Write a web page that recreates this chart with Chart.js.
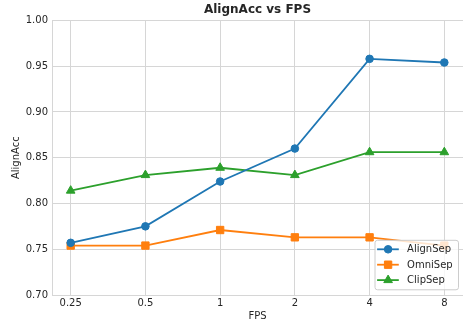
<!DOCTYPE html>
<html><head><meta charset="utf-8">
<script src="https://cdn.jsdelivr.net/npm/chart.js@4/dist/chart.umd.min.js"></script>
<style>html,body{margin:0;padding:0;background:#fff;}</style>
</head><body>
<canvas id="c" width="463" height="322" style="display:block;width:463px;height:322px"></canvas>
<script>
const fpsLabels = ['0.25', '0.5', '1', '2', '4', '8'];
const alignSep = [0.757, 0.775, 0.824, 0.860, 0.958, 0.954];
const omniSep  = [0.754, 0.754, 0.771, 0.763, 0.763, 0.754];
const clipSep  = [0.814, 0.831, 0.839, 0.831, 0.856, 0.856];
const yTickValues = [0.70, 0.75, 0.80, 0.85, 0.90, 0.95, 1.00];

const FONT = "'DejaVu Sans', sans-serif";
const TXT = '#262626';
const GRID = '#d6d6d6';

function toPts(arr){ return arr.map((v,i)=>({x:i, y:v})); }

const series = [
  {label:'AlignSep', data:alignSep, color:'#1f77b4', style:'circle', r:3.8},
  {label:'OmniSep',  data:omniSep,  color:'#ff7f0e', style:'rect', r:5.2},
  {label:'ClipSep',  data:clipSep,  color:'#2ca02c', style:'triangle', r:5}
];

const titleCenterPlugin = {
  id: 'titleCenter',
  afterLayout(chart){
    const t = chart.titleBlock, a = chart.chartArea;
    if (t && a) { t.left = a.left; t.right = a.right; t.width = a.right - a.left; }
  }
};

const legendPlugin = {
  id: 'mplLegend',
  afterDatasetsDraw(chart){
    const ctx = chart.ctx, a = chart.chartArea;
    const w = 83.5, h = 49.5;
    const x0 = a.right - 5 - w, y0 = a.bottom - 5.7 - h;
    ctx.save();
    ctx.beginPath();
    if (ctx.roundRect) ctx.roundRect(x0 + 0.5, y0 + 0.5, w, h, 2.5); else ctx.rect(x0 + 0.5, y0 + 0.5, w, h);
    ctx.fillStyle = 'rgba(255,255,255,0.8)';
    ctx.fill();
    ctx.strokeStyle = '#cccccc';
    ctx.lineWidth = 1;
    ctx.stroke();
    chart.data.datasets.forEach((ds, i) => {
      const y = y0 + 9.5 + i * 15.4;
      ctx.strokeStyle = ds.borderColor;
      ctx.lineWidth = ds.borderWidth;
      ctx.beginPath();
      ctx.moveTo(x0 + 2.6, y); ctx.lineTo(x0 + 24.3, y);
      ctx.stroke();
      ctx.fillStyle = ds.pointBackgroundColor;
      ctx.strokeStyle = ds.pointBorderColor;
      ctx.lineWidth = 1;
      Chart.helpers.drawPoint(ctx, {pointStyle: ds.pointStyle, rotation: 0, radius: ds.pointRadius, borderWidth: 1}, x0 + 13.6, y);
      ctx.fillStyle = TXT;
      ctx.font = '10px ' + FONT;
      ctx.textBaseline = 'middle';
      ctx.textAlign = 'left';
      ctx.fillText(ds.label, x0 + 32.6, y + 0.5);
    });
    ctx.restore();
  }
};

new Chart(document.getElementById('c'), {
  type: 'line',
  data: {
    datasets: series.map(s => ({
      label: s.label,
      data: toPts(s.data),
      borderColor: s.color,
      backgroundColor: s.color,
      pointBackgroundColor: s.color,
      pointBorderColor: s.color,
      pointStyle: s.style,
      pointRadius: s.r,
      pointBorderWidth: 1,
      borderWidth: 1.8,
      tension: 0,
      fill: false
    }))
  },
  options: {
    responsive: false,
    animation: false,
    devicePixelRatio: 1,
    layout: {autoPadding: false, padding: {left: 0, right: -2, top: 0, bottom: 0}},
    plugins: {
      legend: {display: false},
      tooltip: {enabled: false},
      title: {
        display: true,
        text: 'AlignAcc vs FPS',
        color: TXT,
        font: {family: FONT, size: 12, weight: 'bold'},
        padding: {top: 3, bottom: 3}
      }
    },
    scales: {
      x: {
        type: 'linear',
        min: -0.25, max: 5.25,
        afterBuildTicks: s => { s.ticks = fpsLabels.map((_, i) => ({value: i})); },
        afterFit: s => { s.height = 27; },
        ticks: {
          color: TXT, font: {family: FONT, size: 10}, padding: 2,
          maxRotation: 0, autoSkip: false,
          callback: v => fpsLabels[v]
        },
        grid: {color: GRID, lineWidth: 1, drawTicks: false},
        border: {color: GRID, width: 1},
        title: {display: true, text: 'FPS', color: TXT, font: {family: FONT, size: 10}, padding: {top: 0, bottom: 0}}
      },
      y: {
        min: 0.70, max: 1.00,
        afterBuildTicks: s => { s.ticks = yTickValues.map(v => ({value: v})); },
        afterFit: s => { s.width = 52; },
        ticks: {
          color: TXT, font: {family: FONT, size: 10}, padding: 4,
          callback: v => v.toFixed(2)
        },
        grid: {color: GRID, lineWidth: 1, drawTicks: false},
        border: {color: GRID, width: 1},
        title: {display: true, text: 'AlignAcc', color: TXT, font: {family: FONT, size: 10}, padding: {top: 10, bottom: 0}}
      }
    }
  },
  plugins: [titleCenterPlugin, legendPlugin]
});
</script>
</body></html>
